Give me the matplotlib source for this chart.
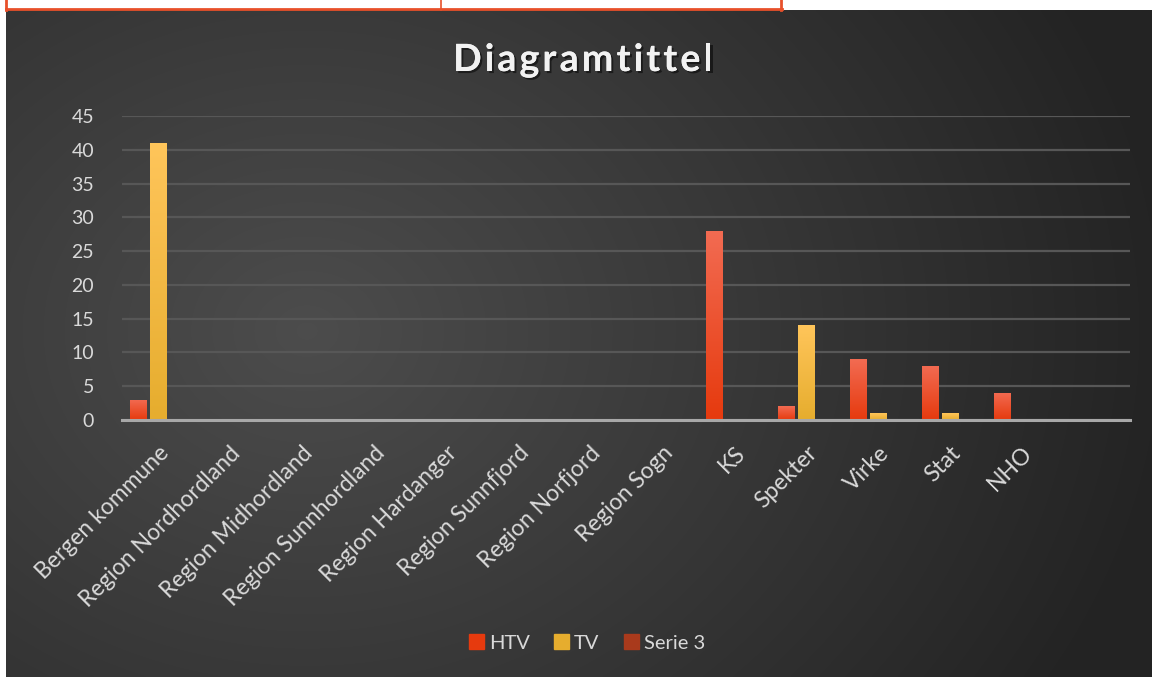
import numpy as np
import matplotlib.pyplot as plt
import matplotlib.patheffects as pe
from matplotlib.patches import Rectangle
from matplotlib.lines import Line2D

# data
categories = ['Bergen kommune', 'Region Nordhordland', 'Region Midhordland',
              'Region Sunnhordland', 'Region Hardanger', 'Region Sunnfjord',
              'Region Norfjord', 'Region Sogn', 'KS', 'Spekter', 'Virke',
              'Stat', 'NHO', '']
htv = [3, 0, 0, 0, 0, 0, 0, 0, 28, 2, 9, 8, 4, 0]
tv = [41, 0, 0, 0, 0, 0, 0, 0, 0, 14, 1, 1, 0, 0]
serie3 = [0, 0, 0, 0, 0, 0, 0, 0, 0, 0, 0, 0, 0, 0]
series_names = ['HTV', 'TV', 'Serie 3']
yticks = [0, 5, 10, 15, 20, 25, 30, 35, 40, 45]
title = 'Diagramtittel'

plt.rcParams['font.family'] = ['Lato', 'DejaVu Sans']

W, H = 1152, 677
fig = plt.figure(figsize=(W / 100, H / 100), dpi=100)
fig.patch.set_facecolor('white')

# dark chart area with radial gradient
bg = fig.add_axes([6 / W, 0, 1 - 6 / W, 1 - 10 / H])
bg.set_axis_off()
yy, xx = np.mgrid[0:300, 0:500]
cx, cy = 250 * 600 / 1146, 300 * 320 / 667
d = np.sqrt(((xx - cx) / 500) ** 2 + ((yy - cy) / 420) ** 2)
d = np.clip(d / 0.75, 0, 1)
shade = 0.30 - 0.16 * d
img = np.dstack([shade, shade, shade])
bg.imshow(img, aspect='auto', extent=[0, 1, 1, 0], interpolation='bilinear')
bg.set_xlim(0, 1)
bg.set_ylim(1, 0)

# spreadsheet cells above the chart
red = '#e8502a'
fig.add_artist(Line2D([6 / W, 6 / W], [1 - 10 / H, 1], color=red, lw=2))
fig.add_artist(Line2D([6 / W, 782 / W], [1 - 9 / H, 1 - 9 / H], color=red, lw=2))
fig.add_artist(Line2D([441 / W, 441 / W], [1 - 10 / H, 1], color=red, lw=1.2))
fig.add_artist(Line2D([781 / W, 781 / W], [1 - 10 / H, 1], color=red, lw=2))

ax = fig.add_axes([122 / W, 1 - 420 / H, (1130 - 122) / W, (420 - 116) / H])
ax.patch.set_alpha(0)
x = np.arange(len(categories))
bw = 17 / 72
step = 20 / 72

grads = {
    'HTV': ('#f26b52', '#e63a0e'),
    'TV': ('#ffc55a', '#e6ad2e'),
    'Serie 3': ('#c4543c', '#a93a1c'),
}

for k, (name, vals) in enumerate(zip(series_names, [htv, tv, serie3])):
    bars = ax.bar(x + (k - 1) * step, vals, width=bw, color=grads[name][1],
                  zorder=3, linewidth=0)
    top, bot = grads[name]
    c1 = np.array(plt.matplotlib.colors.to_rgb(top))
    c2 = np.array(plt.matplotlib.colors.to_rgb(bot))
    t = np.linspace(0, 1, 64)[:, None]
    g = (c1 * (1 - t) + c2 * t)[:, None, :]
    for b in bars:
        if b.get_height() <= 0:
            continue
        bx, by = b.get_x(), b.get_y()
        im = ax.imshow(g, extent=[bx, bx + b.get_width(), by, by + b.get_height()],
                       aspect='auto', zorder=3.5, interpolation='bilinear')
        im.set_clip_path(b)

ax.set_xlim(-0.5, len(categories) - 0.5)
ax.set_ylim(0, 45)
ax.set_yticks(yticks)
ax.yaxis.grid(True, color='#575757', lw=1.6, zorder=0)
ax.set_axisbelow(True)
for s in ['top', 'right', 'left']:
    ax.spines[s].set_visible(False)
ax.spines['bottom'].set_color('#a8a8a8')
ax.spines['bottom'].set_linewidth(2.2)
ax.spines['bottom'].set_zorder(4)
ax.tick_params(axis='both', length=0, colors='#d9d9d9')
ax.tick_params(axis='y', pad=20, labelsize=14)
ax.set_xticks(x)
ax.set_xticklabels(categories, rotation=45, ha='right', rotation_mode='anchor')
ax.tick_params(axis='x', pad=16, labelsize=16.5)

# title with wide letter spacing, drawn one letter at a time
fig.canvas.draw()
r = fig.canvas.get_renderer()
spacing = 3.2
parts = []
total = 0
for ch in title:
    tt = fig.text(0, 0, ch, fontsize=27, fontweight='bold', color='#f2f2f2',
                  va='center', ha='left')
    w = tt.get_window_extent(r).width
    parts.append((tt, w))
    total += w + spacing
total -= spacing
xpos = 583 - total / 2
for tt, w in parts:
    tt.set_position((xpos / W, 1 - 60 / H))
    tt.set_path_effects([pe.withSimplePatchShadow(offset=(1.5, -1.5), shadow_rgbFace='black', alpha=0.5),
                         pe.Normal()])
    xpos += w + spacing

handles = [Rectangle((0, 0), 1, 1, color=grads[n][1]) for n in series_names]
leg = fig.legend(handles, series_names, loc='center', bbox_to_anchor=(587 / W, 1 - 643 / H),
                 ncol=3, frameon=False, fontsize=14.5, labelcolor='#d9d9d9',
                 handlelength=0.75, handleheight=0.75, handletextpad=0.25, columnspacing=1.2)

fig.savefig('out.png', dpi=100, facecolor=fig.get_facecolor())
